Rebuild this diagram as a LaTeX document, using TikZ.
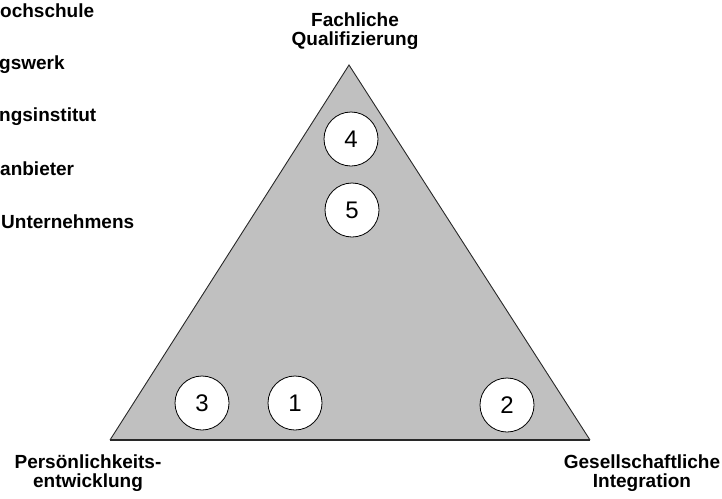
\documentclass[tikz,border=0pt]{standalone}
\usepackage{fontspec}
\setmainfont{Liberation Sans}
\begin{document}
\begin{tikzpicture}[x=1pt,y=-1pt,
  lbl/.style={font=\fontsize{19}{19}\selectfont\bfseries, inner sep=0pt, anchor=base},
  side/.style={lbl, anchor=base west},
  numcirc/.style={circle, draw=black, line width=0.8pt, fill=white,
    minimum size=54pt, inner sep=0pt, font=\fontsize{24}{24}\selectfont}]
  \useasboundingbox (0,0) rectangle (722,498);

  % the three corners of the triangle
  \coordinate (top) at (349,65);
  \coordinate (bl) at (110,440);
  \coordinate (br) at (590,440);
  \fill[gray!50!white, fill={rgb,255:red,192;green,192;blue,192}] (top) -- (br) -- (bl) -- cycle;
  \draw[line width=0.9pt, draw={rgb,255:red,40;green,40;blue,40}] (bl) -- (top) -- (br);
  \draw[line width=1.8pt, draw={rgb,255:red,40;green,40;blue,40}] (bl) -- (br);

  % numbered markers inside
  \node[numcirc] (n4) at (351,139) {4};
  \node[numcirc] (n5) at (352,210) {5};
  \node[numcirc] (n3) at (202,403) {3};
  \node[numcirc] (n1) at (295,403) {1};
  \node[numcirc] (n2) at (507,405) {2};

  % corner captions
  \node[lbl] (fach1) at (355,26) {Fachliche};
  \node[lbl] (fach2) at (355,45) {Qualifizierung};
  \node[lbl] (pers1) at (88,468) {Persönlichkeits-};
  \node[lbl] (pers2) at (88,487) {entwicklung};
  \node[lbl] (ges1) at (642,468) {Gesellschaftliche};
  \node[lbl] (ges2) at (642,487) {Integration};

  % list along the left edge
  \node[side] (l1) at (0,17) {ochschule};
  \node[side] (l2) at (-1,69) {gswerk};
  \node[side] (l3) at (-1,121) {ngsinstitut};
  \node[side] (l4) at (0,175) {anbieter};
  \node[side] (l5) at (1,228) {Unternehmens};
\end{tikzpicture}
\end{document}
